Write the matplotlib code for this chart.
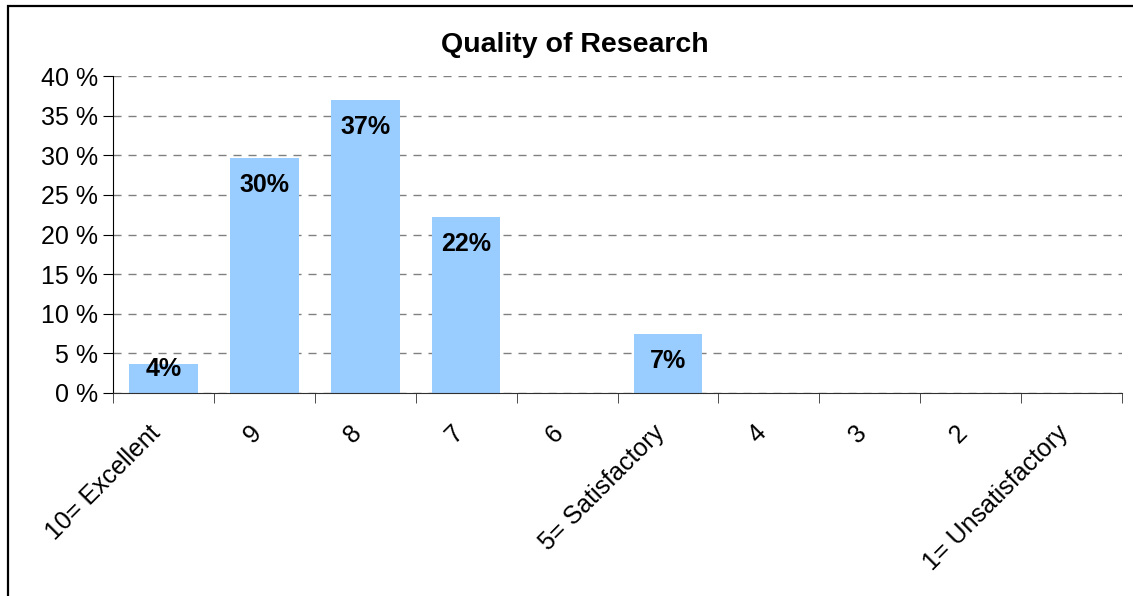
import matplotlib
matplotlib.use('Agg')
import matplotlib.pyplot as plt
from matplotlib.patches import Rectangle
from matplotlib.transforms import ScaledTranslation

plt.rcParams['font.family'] = ['Liberation Sans', 'DejaVu Sans']

# data
categories = ['10= Excellent', '9', '8', '7', '6', '5= Satisfactory', '4', '3', '2', '1= Unsatisfactory']
values = [3.7, 29.6, 37.0, 22.2, 0, 7.4, 0, 0, 0, 0]
labels = ['4%', '30%', '37%', '22%', '', '7%', '', '', '', '']
yticks = [0, 5, 10, 15, 20, 25, 30, 35, 40]

fig = plt.figure(figsize=(11.33, 5.96), dpi=100)
ax = fig.add_axes([113/1133, 1-393/596, (1122-113)/1133, (393-76)/596])

x = list(range(len(categories)))
ax.bar(x, values, width=0.68, color='#99CCFF', zorder=2)

for i, v in enumerate(values):
    if labels[i]:
        ax.text(i, max(v - 3.4, 3.0), labels[i], ha='center', va='center',
                fontsize=18, fontweight='bold', zorder=3)

ax.set_xlim(-0.5, len(categories) - 0.5)
ax.set_ylim(0, 40)
ax.set_yticks(yticks)
ax.set_yticklabels([str(t) + ' %' for t in yticks], fontsize=18)
ax.yaxis.grid(True, color='#808080', linestyle=(0, (5.8, 5.0)), linewidth=1, zorder=0)
ax.set_axisbelow(True)

# labels at the centers, tick marks at the boundaries
ax.set_xticks(x)
ax.set_xticklabels(categories, rotation=45, ha='right', va='center',
                   rotation_mode='anchor', fontsize=18)
ax.tick_params(axis='x', which='major', length=0, pad=26)
shift = ScaledTranslation(-7/100, 0, fig.dpi_scale_trans)
for lab in ax.get_xticklabels():
    lab.set_transform(lab.get_transform() + shift)
ax.set_xticks([i - 0.5 for i in range(len(categories) + 1)], minor=True)
ax.tick_params(axis='x', which='minor', length=7, color='#303030')
ax.tick_params(axis='y', length=7, pad=4)

ax.spines['top'].set_visible(False)
ax.spines['right'].set_visible(False)
ax.spines['bottom'].set_color('#303030')
ax.spines['left'].set_color('black')

fig.text(575/1133, 1-45/596, 'Quality of Research', ha='center', va='center',
         fontsize=20.5, fontweight='bold')

# outer frame
fig.patches.append(Rectangle((7.5/1133, -0.1), 1.2, 1 - 5.5/596 + 0.1, transform=fig.transFigure,
                             fill=False, edgecolor='black', linewidth=1.6))

fig.savefig('out.png', dpi=100)
